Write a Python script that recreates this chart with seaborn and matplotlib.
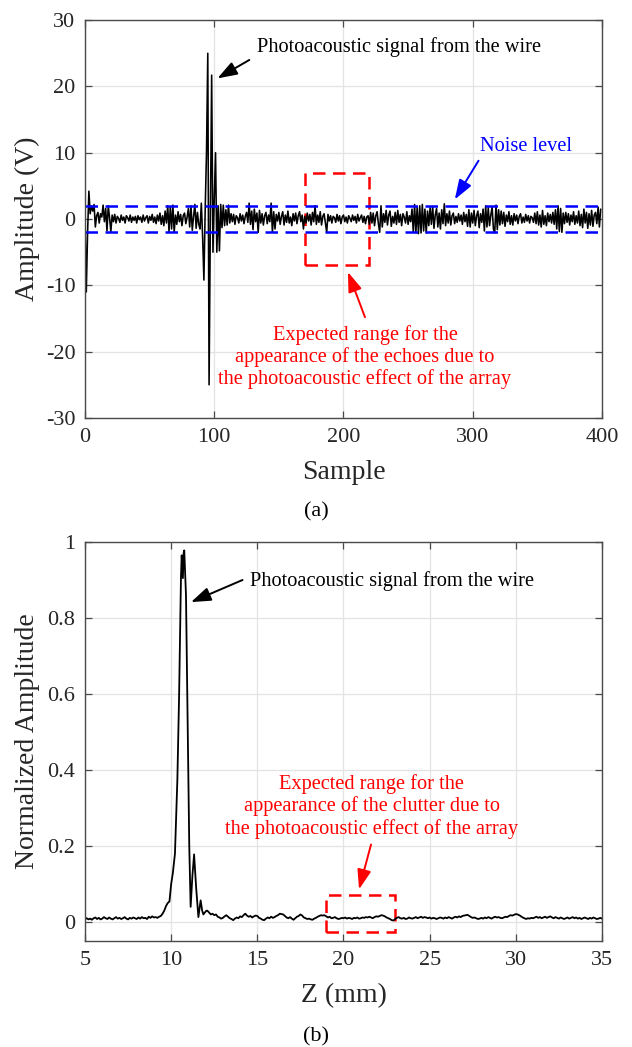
import numpy as np
import pandas as pd
import matplotlib
matplotlib.use("Agg")
import matplotlib.pyplot as plt
import seaborn as sns
from matplotlib.patches import Rectangle

# %%
# (a) raw photoacoustic signal, one value per sample
amp_v = [
    0.5, -11.0, -2.0, 4.2, 0.8, 2.0, 1.2, 2.2, -1.2, 0.5, 1.0, -0.6, 0.8, 0.3, 2.1, -0.4, 1.6, -1.8, 2.0, 0.2,
    -1.9, 0.6, -0.4, 0.7, -0.6, 0.4, 0.1, -0.5, 0.6, -0.2, 0.3, -0.6, 0.5, 0.2, -0.3, 0.6, -0.5, 0.3, -0.2, 0.4,
    -0.6, 0.5, -0.1, 0.3, -0.5, 0.6, -0.3, 0.2, 0.5, -0.6, 0.4, -0.2, 0.7, -0.5, 0.3, -0.7, 0.6, -0.3, 0.9, -0.8,
    0.5, -1.0, 1.2, -0.6, 2.0, -1.9, 1.8, -1.5, 2.1, -2.0, 0.6, -0.8, 1.1, -0.4, 0.7, -1.0, 0.5, 0.9, -0.7, 0.3,
    1.6, -1.2, 2.0, -1.7, 0.4, 2.2, -1.4, 1.0, -0.8, -1.5, 2.4, -2.7, -9.2, 1.5, 10.0, 25.0, -25.0, 0.0, 21.7, -5.0,
    3.0, 10.0, -5.0, 2.0, -4.8, 2.2, -1.3, 2.1, -1.0, 1.4, -0.9, 2.1, -0.6, 0.8, -0.4, 0.7, -0.8, 0.5, 0.2, -0.6,
    0.8, -0.3, 0.6, -0.7, 0.4, 1.0, -0.5, 2.4, -0.8, 1.2, -1.6, 1.5, -0.4, 0.9, -2.0, 1.3, -0.6, 0.8, -0.9, 0.5,
    1.0, -0.7, 0.6, -0.4, 2.4, -2.0, 1.1, -1.5, 0.7, -0.3, 1.0, -0.8, 0.4, 1.1, -0.9, 0.6, -0.5, 1.2, -0.6, 0.3,
    -1.0, 0.8, -0.3, 0.9, -0.7, 0.5, 1.1, -0.4, 0.6, -1.5, 0.4, -0.6, 0.9, -0.3, 0.7, -0.9, 1.0, -0.4, 2.0, -0.8,
    0.6, -0.5, 1.1, -0.9, 0.4, 0.8, -0.6, -2.0, 0.7, -0.3, 0.5, -0.6, 0.4, 0.2, -0.5, 0.7, -0.3, 0.5, -0.7, 0.3,
    0.6, -0.4, 0.3, -0.6, 0.5, 0.1, -0.4, 0.6, -0.2, 0.4, -0.6, 0.7, -0.3, 0.2, 0.6, -0.5, 0.4, -0.7, 0.3, 0.5,
    -0.8, 1.0, -0.6, 0.9, -1.0, 0.5, 1.1, -0.7, -2.0, 2.0, -1.2, 0.8, -0.5, 1.3, -0.9, 0.6, 1.2, -1.1, 0.4, -0.6,
    1.0, -0.8, 1.3, -0.5, 0.7, -1.0, 0.8, 0.3, -0.6, 1.1, -0.8, 0.5, -0.4, 1.5, -2.0, 2.2, -2.1, 1.8, -2.2, 2.0,
    -2.1, 2.2, -1.8, 1.5, -2.1, 1.2, -1.0, 1.7, -0.8, 1.9, -1.4, 0.6, 1.6, -1.2, 0.9, -1.5, 1.4, -0.7, 2.3, -1.0,
    0.8, -0.6, 1.2, -0.9, 0.5, 0.9, -0.7, 0.4, -0.5, 0.8, -0.3, 0.6, -0.8, 1.0, -0.4, 0.7, -1.1, 1.4, -1.2, 0.9,
    -0.6, 1.3, -1.0, 0.5, 1.2, -1.3, 0.8, -0.5, 1.5, -1.8, 2.0, -1.2, 1.7, -1.0, 0.6, 1.8, -1.5, -2.1, 2.1, -1.6,
    1.4, -0.9, 1.2, -0.7, 1.0, -1.1, 0.6, -0.4, 1.1, -0.8, 0.5, -0.9, 0.8, -0.3, 0.6, -0.7, 0.4, 0.8, -0.6, 0.3,
    -0.5, 0.7, -0.3, 0.5, -0.6, 0.4, 0.2, -0.5, 0.9, -0.7, 1.1, -0.9, 0.6, -1.2, 1.3, -0.8, 0.5, -1.0, 0.9, -0.4,
    0.7, -0.6, 1.0, -0.8, 1.4, -1.5, 2.0, -1.9, 1.6, -2.0, 0.9, -0.7, 1.0, -0.5, 0.8, -0.9, 0.6, -0.4, 1.1, -0.8,
    0.5, -0.6, 1.2, -1.0, 0.7, -1.3, 1.5, -0.6, 1.0, -1.4, 0.8, -0.9, 1.3, -1.1, 0.6, 1.0, -0.7, 1.8, -1.2, 1.5,
]
noise_level = 2.0

# %%
# (b) normalized amplitude vs depth
z_start = list(np.arange(50, 100) / 10)            # 5.0 .. 9.9 mm
amp_start = [
    0.008, 0.010, 0.007, 0.009, 0.006, 0.010, 0.012, 0.008, 0.011, 0.007,
    0.009, 0.013, 0.010, 0.008, 0.012, 0.009, 0.007, 0.010, 0.013, 0.009,
    0.011, 0.008, 0.010, 0.013, 0.009, 0.007, 0.011, 0.009, 0.012, 0.010,
    0.008, 0.012, 0.009, 0.013, 0.010, 0.011, 0.008, 0.014, 0.011, 0.015,
    0.012, 0.013, 0.011, 0.014, 0.016, 0.022, 0.030, 0.042, 0.050, 0.054,
]
z_peak = [10.0, 10.1, 10.22, 10.36, 10.46, 10.57, 10.61, 10.65, 10.68, 10.72, 10.76, 10.8, 10.86,
          10.95, 11.05, 11.13, 11.23, 11.33, 11.45, 11.58, 11.66, 11.71, 11.8, 11.87, 11.95, 12.05]
amp_peak = [0.10, 0.13, 0.18, 0.375, 0.595, 0.91, 0.965, 0.93, 0.905, 0.97, 0.978, 0.93, 0.86,
            0.55, 0.20, 0.04, 0.12, 0.178, 0.09, 0.013, 0.04, 0.057, 0.03, 0.02, 0.025, 0.03]
z_end = list(np.arange(121, 351) / 10)             # 12.1 .. 35.0 mm
amp_end = [
    0.030, 0.025, 0.020, 0.022, 0.018, 0.020, 0.014, 0.012, 0.009,
    0.011, 0.015, 0.018, 0.014, 0.010, 0.008, 0.005, 0.009, 0.012, 0.010,
    0.015, 0.013, 0.018, 0.022, 0.017, 0.014, 0.016, 0.012, 0.015, 0.017,
    0.016, 0.011, 0.009, 0.006, 0.005, 0.009, 0.012, 0.010, 0.014, 0.011,
    0.013, 0.016, 0.018, 0.022, 0.021, 0.020, 0.016, 0.012, 0.010, 0.013,
    0.009, 0.006, 0.010, 0.014, 0.016, 0.020, 0.017, 0.012, 0.010, 0.008,
    0.009, 0.007, 0.006, 0.009, 0.011, 0.014, 0.016, 0.018, 0.017, 0.018,
    0.015, 0.012, 0.014, 0.010, 0.011, 0.013, 0.010, 0.008, 0.009, 0.011,
    0.010, 0.012, 0.009, 0.011, 0.010, 0.008, 0.011, 0.010, 0.012, 0.009,
    0.010, 0.012, 0.011, 0.013, 0.012, 0.014, 0.012, 0.010, 0.013, 0.015,
    0.014, 0.016, 0.018, 0.017, 0.015, 0.012, 0.010, 0.008, 0.005, 0.004,
    0.008, 0.011, 0.013, 0.010, 0.009, 0.011, 0.008, 0.009, 0.012, 0.010,
    0.009, 0.011, 0.013, 0.010, 0.012, 0.014, 0.011, 0.013, 0.012, 0.010,
    0.012, 0.009, 0.011, 0.010, 0.008, 0.010, 0.012, 0.011, 0.009, 0.012,
    0.010, 0.013, 0.011, 0.009, 0.012, 0.014, 0.012, 0.015, 0.013, 0.016,
    0.017, 0.018, 0.019, 0.016, 0.013, 0.011, 0.012, 0.010, 0.008, 0.009,
    0.011, 0.009, 0.012, 0.010, 0.013, 0.011, 0.009, 0.012, 0.014, 0.012,
    0.013, 0.011, 0.010, 0.012, 0.014, 0.013, 0.016, 0.018, 0.017, 0.019,
    0.021, 0.020, 0.018, 0.015, 0.012, 0.010, 0.008, 0.010, 0.009, 0.011,
    0.010, 0.012, 0.014, 0.011, 0.013, 0.010, 0.012, 0.014, 0.011, 0.013,
    0.015, 0.012, 0.010, 0.013, 0.011, 0.009, 0.012, 0.010, 0.008, 0.010,
    0.012, 0.009, 0.011, 0.013, 0.010, 0.012, 0.009, 0.011, 0.008, 0.010,
    0.012, 0.010, 0.008, 0.011, 0.009, 0.012, 0.010, 0.008, 0.009, 0.011, 0.009,
]

df_a = pd.DataFrame({"sample": np.arange(len(amp_v)), "amp": amp_v})
df_b = pd.DataFrame({"z": z_start + z_peak + z_end, "amp": amp_start + amp_peak + amp_end})

# %%
sns.set_theme(style="whitegrid")
plt.rcParams["font.family"] = ["Liberation Serif", "DejaVu Serif"]
plt.rcParams["axes.unicode_minus"] = False

tick_fs = 16
label_fs = 20
note_fs = 14.7
grid_c = "#e3e3e3"
spine_c = "#4a4a4a"

fig = plt.figure(figsize=(6.32, 10.47), dpi=100)
ax1 = fig.add_axes([0.1345, 0.6008, 0.818, 0.380])
ax2 = fig.add_axes([0.1345, 0.1012, 0.818, 0.3811])

for ax in (ax1, ax2):
    ax.set_facecolor("white")
    ax.grid(True, color=grid_c, lw=0.9)
    for s in ax.spines.values():
        s.set_color(spine_c)
        s.set_linewidth(1.0)
    ax.tick_params(direction="in", length=5, width=0.9, colors=spine_c,
                   labelcolor="#262626", labelsize=tick_fs, pad=7,
                   top=True, right=True, bottom=True, left=True)

# %% (a)
sns.lineplot(data=df_a, x="sample", y="amp", ax=ax1, color="black", lw=1.15)
for lvl in (noise_level, -noise_level):
    ax1.axhline(lvl, color="#0000ff", lw=1.8, ls=(0, (5, 3)))
ax1.add_patch(Rectangle((170, -7), 50, 14, fill=False, ec="#ff0000", lw=1.8, ls=(0, (5, 3))))
ax1.set_xlim(0, 400)
ax1.set_ylim(-30, 30)
ax1.set_xticks(range(0, 401, 100))
ax1.set_yticks(range(-30, 31, 10))
ax1.set_xlabel("Sample", fontsize=label_fs, color="#262626")
ax1.set_ylabel("Amplitude (V)", fontsize=label_fs, color="#262626")

arrow_kw = dict(arrowstyle="-|>,head_length=1.0,head_width=0.35", lw=1.4)
ax1.annotate("", xy=(100.6, 21.0), xytext=(129, 24.2),
             arrowprops=dict(color="black", **arrow_kw))
ax1.text(132.8, 26.0, "Photoacoustic signal from the wire", fontsize=note_fs,
         ha="left", va="center", color="black")
ax1.annotate("", xy=(285, 2.6), xytext=(305.6, 9.15),
             arrowprops=dict(color="#0000ff", **arrow_kw))
ax1.text(305.6, 10.9, "Noise level", fontsize=note_fs, ha="left", va="center", color="#0000ff")
ax1.annotate("", xy=(202.7, -7.6), xytext=(217.4, -15.2),
             arrowprops=dict(color="#ff0000", **arrow_kw))
ax1.text(216.6, -20.8, "Expected range for the\nappearance of the echoes due to\n"
         "the photoacoustic effect of the array", fontsize=note_fs,
         ha="center", va="center", color="#ff0000", linespacing=1.15)

# %% (b)
sns.lineplot(data=df_b, x="z", y="amp", ax=ax2, color="black", lw=1.3)
ax2.add_patch(Rectangle((19, -0.026), 4, 0.098, fill=False, ec="#ff0000", lw=1.8, ls=(0, (5, 3))))
ax2.set_xlim(5, 35)
ax2.set_ylim(-0.05, 1)
ax2.set_xticks(range(5, 36, 5))
ax2.set_yticks([0, 0.2, 0.4, 0.6, 0.8, 1])
ax2.set_yticklabels(["0", "0.2", "0.4", "0.6", "0.8", "1"])
ax2.set_xlabel("Z (mm)", fontsize=label_fs, color="#262626")
ax2.set_ylabel("Normalized Amplitude", fontsize=label_fs, color="#262626")

ax2.annotate("", xy=(11.0, 0.839), xytext=(14.29, 0.903),
             arrowprops=dict(color="black", **arrow_kw))
ax2.text(14.58, 0.898, "Photoacoustic signal from the wire", fontsize=note_fs,
         ha="left", va="center", color="black")
ax2.annotate("", xy=(20.86, 0.079), xytext=(21.64, 0.211),
             arrowprops=dict(color="#ff0000", **arrow_kw))
ax2.text(21.64, 0.304, "Expected range for the\nappearance of the clutter due to\n"
         "the photoacoustic effect of the array", fontsize=note_fs,
         ha="center", va="center", color="#ff0000", linespacing=1.15)

for ax in (ax1, ax2):
    ax.xaxis.set_label_coords(0.5, -0.105)
    ax.yaxis.set_label_coords(-0.088, 0.5)

fig.text(0.5, 0.511, "(a)", fontsize=16, ha="center", va="center", color="black")
fig.text(0.5, 0.0096, "(b)", fontsize=16, ha="center", va="center", color="black")

fig.savefig("out.png", dpi=100)
